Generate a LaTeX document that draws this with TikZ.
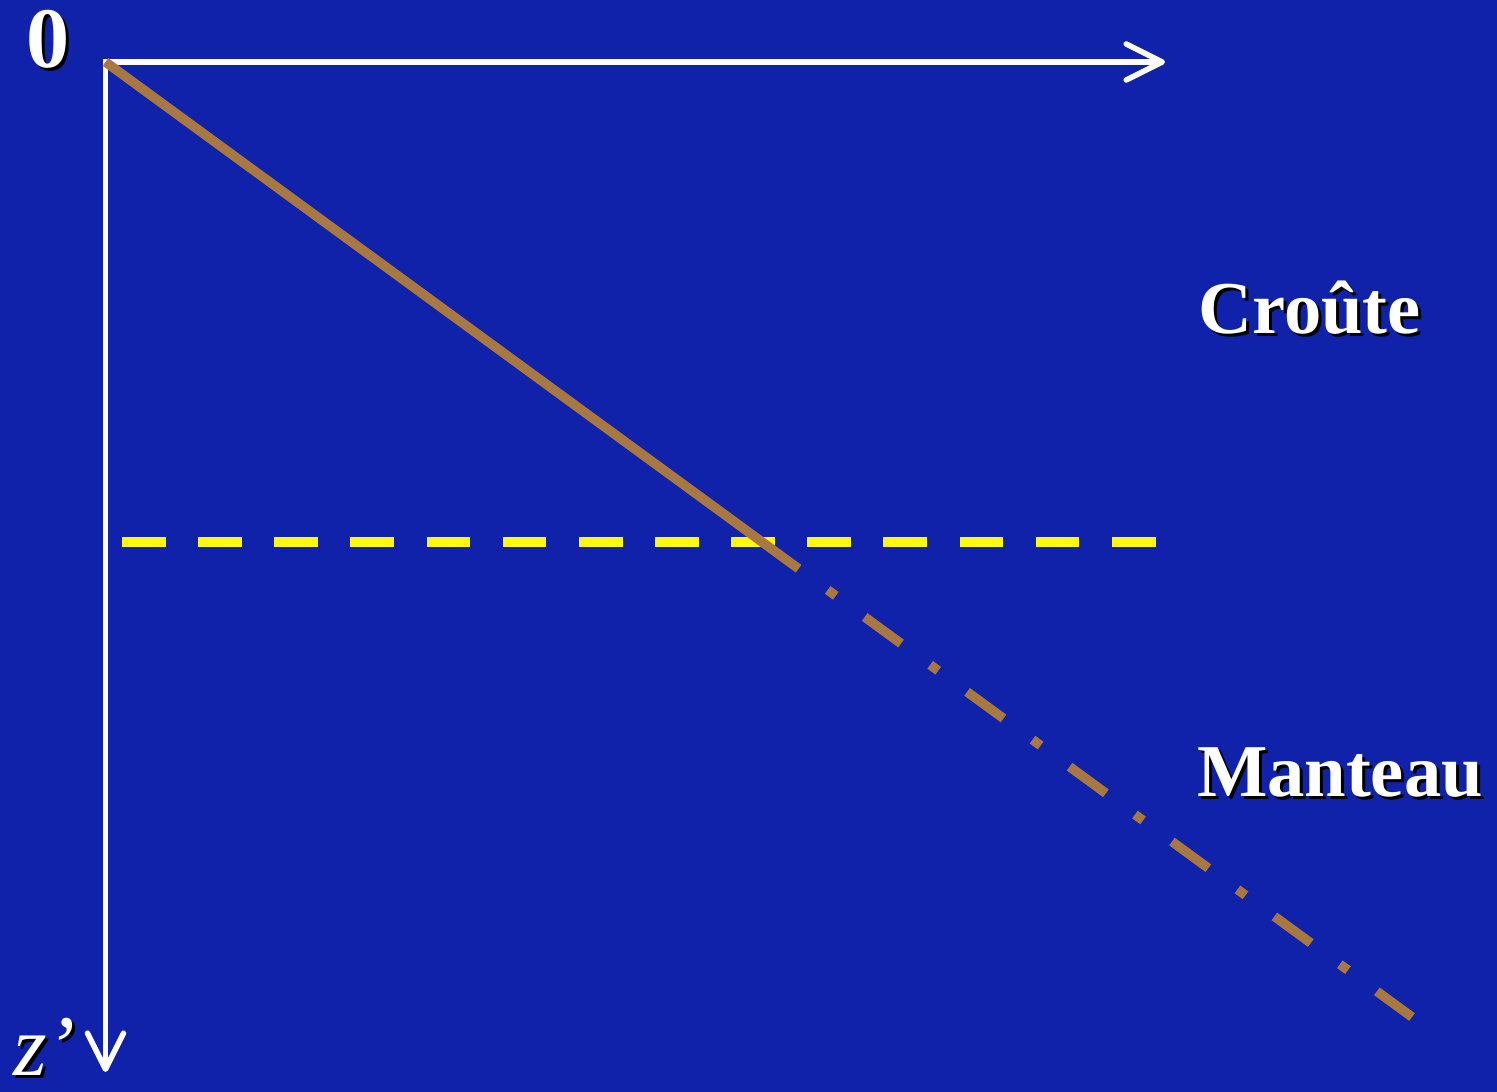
\documentclass[tikz,border=0pt]{standalone}
\usepackage{fontspec}
\setmainfont{Liberation Serif}
\usetikzlibrary{arrows.meta}
\definecolor{bgblue}{RGB}{16,34,170}
\definecolor{crustbrown}{RGB}{168,120,64}
\definecolor{mohoyellow}{RGB}{255,250,15}
\newcommand\shadowed[1]{\makebox[0pt][l]{\hspace{0.03cm}\raisebox{-0.03cm}{\color{black}#1}}#1}
\begin{document}
\begin{tikzpicture}[x=0.01cm,y=-0.01cm,
  axisline/.style={draw=white,line width=0.055cm,line cap=rect,
    -{Straight Barb[length=0.36cm,width=0.36cm,round]}},
  moho/.style={draw=mohoyellow,line width=0.105cm,dash pattern=on 0.437cm off 0.324cm},
  crustline/.style={draw=crustbrown,line width=0.095cm},
  mantleline/.style={draw=crustbrown,line width=0.095cm,
    dash pattern=on 0.45cm off 0.36cm on 0.10cm off 0.358cm,dash phase=0.45cm},
  biglbl/.style={inner sep=0,outer sep=0,text=white,anchor=base west,
    font=\fontsize{24.5}{28}\selectfont},
  lbl/.style={inner sep=0,outer sep=0,text=white,anchor=base west,
    font=\fontsize{21.2}{24}\selectfont\bfseries}]
\fill[bgblue] (0,0) rectangle (1497,1092);
\useasboundingbox (0,0) rectangle (1497,1092);
\coordinate (O) at (105.5,62);
\coordinate (xtip) at (1165,62);
\coordinate (ztip) at (105.5,1072);
\coordinate (mohoL) at (122,542);
\coordinate (mohoR) at (1156,542);
\coordinate (crustend) at (798.6,568.7);
\coordinate (mantleend) at (1412,1017);
% axes
\draw[axisline] (O) -- (xtip);
\draw[axisline] (O) -- (ztip);
% Moho
\draw[moho] (mohoL) -- (mohoR);
% geotherm
\draw[crustline] (O) -- (crustend);
\draw[mantleline] (crustend) -- (mantleend);
% labels
\node[biglbl,font=\fontsize{24.5}{28}\selectfont\bfseries] (zero) at (26.5,68) {\shadowed{0}};
\node[biglbl,font=\fontsize{24.5}{28}\selectfont\itshape] (zlabel) at (13,1075) {\shadowed{z’}};
\node[lbl] (croute) at (1198.5,334) {\shadowed{Croûte}};
\node[lbl] (manteau) at (1197,797) {\shadowed{Manteau}};
\end{tikzpicture}
\end{document}
